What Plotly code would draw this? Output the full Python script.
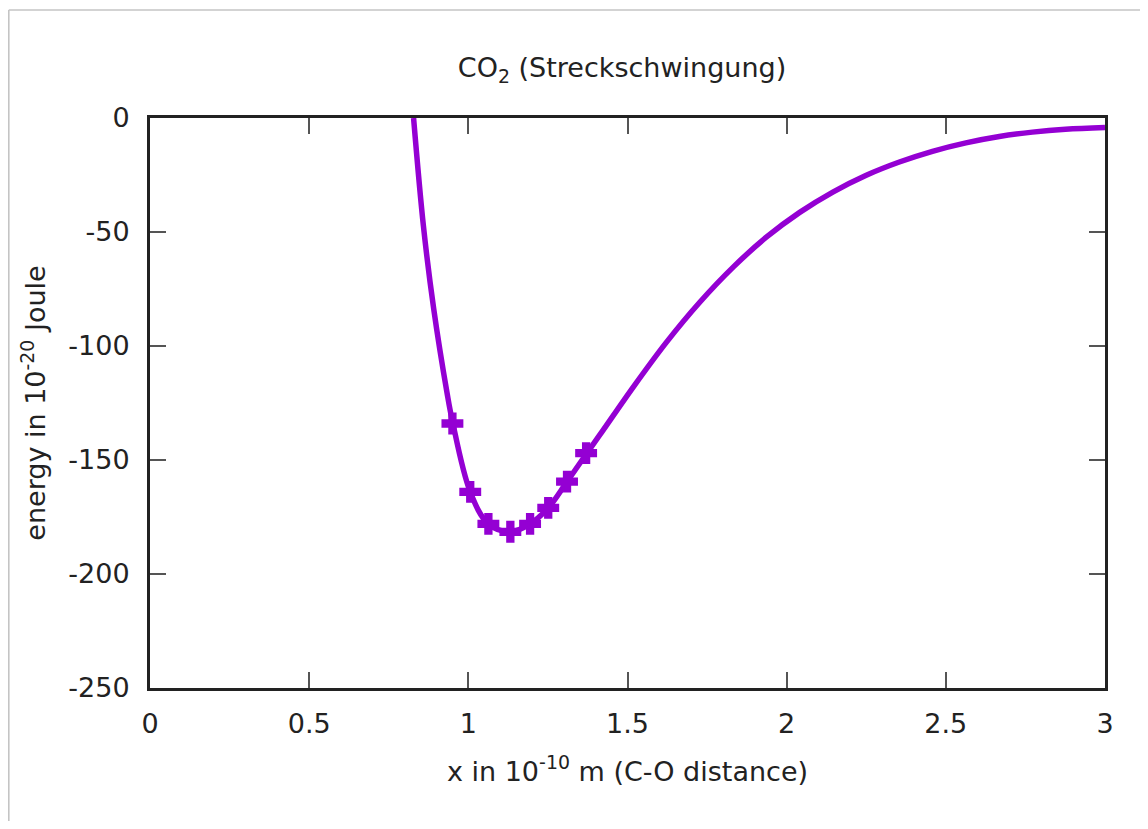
import plotly.graph_objects as go

# Potential curve
curve_x = [0.828, 0.859, 0.891, 0.933, 0.950, 1.006, 1.063, 1.132, 1.194, 1.251,
           1.310, 1.370, 1.414, 1.518, 1.622, 1.727, 1.832, 1.936, 2.041, 2.145,
           2.250, 2.354, 2.458, 2.563, 2.668, 2.772, 2.876, 3.000]
curve_y = [0.0, -47.5, -83.5, -120.5, -133.0, -164.0, -178.0, -181.5, -178.0, -171.0,
           -159.5, -147.5, -138.8, -118.0, -98.4, -80.8, -65.4, -52.3, -41.4, -32.5,
           -25.1, -19.3, -14.6, -10.9, -8.1, -6.2, -4.95, -4.2]

# Marked points
mark_x = [0.950, 1.006, 1.063, 1.132, 1.194, 1.251, 1.310, 1.370]
mark_y = [-134.0, -164.0, -178.0, -181.5, -178.0, -171.0, -159.5, -147.0]

x_ticks = [0, 0.5, 1, 1.5, 2, 2.5, 3]
x_tick_labels = ["0", "0.5", "1", "1.5", "2", "2.5", "3"]
y_ticks = [0, -50, -100, -150, -200, -250]
y_tick_labels = ["0", "-50", "-100", "-150", "-200", "-250"]

COLOR = "#9400D3"
FONT = "DejaVu Sans"
TXT = "#222222"
FS = 27

fig = go.Figure()
fig.add_trace(go.Scatter(
    x=curve_x, y=curve_y, mode="lines",
    line=dict(color=COLOR, width=5.5, shape="spline", smoothing=1.0),
    showlegend=False, hoverinfo="skip"))
fig.add_trace(go.Scatter(
    x=mark_x, y=mark_y, mode="markers",
    marker=dict(symbol="cross", size=17, color=COLOR,
                line=dict(color=COLOR, width=1.5)),
    showlegend=False))

# page has an 8px body margin, so the figure is sized/offset accordingly
W, H = 1132, 813
L, T = 142, 110
pw, ph = 955, 570
R = W - L - pw
B = H - T - ph

def fig_to_paper(fx, fy):
    return (fx - L) / pw, (T + ph - fy) / ph

fx0, fy0 = fig_to_paper(0.8, 2)
fx1, _ = fig_to_paper(W, 2)
_, fyb = fig_to_paper(0.8, H)

fig.add_shape(type="line", xref="paper", yref="paper", x0=fx0, y0=fy0, x1=fx1, y1=fy0,
              line=dict(color="#c4c4c4", width=1.6))
fig.add_shape(type="line", xref="paper", yref="paper", x0=fx0, y0=fy0, x1=fx0, y1=fyb,
              line=dict(color="#c4c4c4", width=1.6))

axis_common = dict(
    showgrid=False, zeroline=False, showline=True, linecolor="#222222", linewidth=3,
    mirror="ticks", ticks="inside", ticklen=16, tickwidth=2, tickcolor="#555555",
    tickfont=dict(family=FONT, size=FS, color=TXT),
)

fig.update_layout(
    width=W, height=H,
    margin=dict(l=L, r=R, t=T, b=B, autoexpand=False),
    paper_bgcolor="white", plot_bgcolor="white",
    title=dict(text="CO<sub>2</sub> (Streckschwingung)", x=(622 - 8) / W, xanchor="center",
               y=1 - (68 - 8) / H, yanchor="middle",
               font=dict(family=FONT, size=FS, color=TXT)),
    xaxis=dict(range=[0, 3], tickvals=x_ticks, ticktext=x_tick_labels,
               ticklabelstandoff=10,
               title=dict(text="x in 10<sup>-10</sup> m (C-O distance)",
                          font=dict(family=FONT, size=FS, color=TXT), standoff=24),
               **axis_common),
    yaxis=dict(range=[-250, 0], tickvals=y_ticks, ticktext=y_tick_labels,
               ticklabelstandoff=12,
               title=dict(text="energy in 10<sup>-20</sup> Joule",
                          font=dict(family=FONT, size=FS, color=TXT), standoff=15),
               **axis_common),
)

fig.write_html("out.html")
